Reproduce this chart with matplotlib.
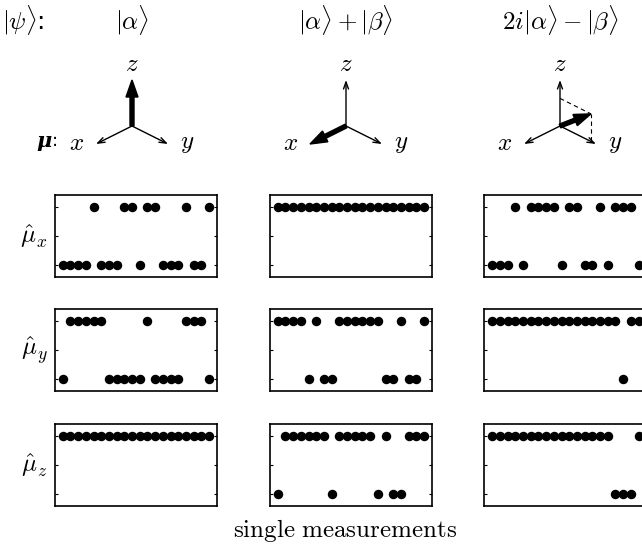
import numpy as np
import matplotlib.pyplot as plt

plt.rcParams['mathtext.fontset'] = 'cm'

W, H = 642, 547
FS = 18

# column headers / row labels
states = [r'$|\alpha\rangle$', r'$|\alpha\rangle + |\beta\rangle$', r'$2i|\alpha\rangle - |\beta\rangle$']
components = [r'$\hat{\mu}_x$', r'$\hat{\mu}_y$', r'$\hat{\mu}_z$']

# spin direction for each state, (x, y, z) components
spin_dirs = [(0, 0, 1), (1, 0, 0), (0, 0.86, 0.6)]

# single measurement outcomes (+1 up, -1 down), 20 shots per panel
shots = np.arange(1, 21)
mux_alpha = [-1, -1, -1, -1, 1, -1, -1, -1, 1, 1, -1, 1, 1, -1, -1, -1, 1, -1, -1, 1]
mux_sum   = [1, 1, 1, 1, 1, 1, 1, 1, 1, 1, 1, 1, 1, 1, 1, 1, 1, 1, 1, 1]
mux_mix   = [-1, -1, -1, 1, -1, 1, 1, 1, 1, -1, 1, 1, -1, -1, 1, -1, 1, 1, 1, -1]
muy_alpha = [-1, 1, 1, 1, 1, 1, -1, -1, -1, -1, -1, 1, -1, -1, -1, -1, 1, 1, 1, -1]
muy_sum   = [1, 1, 1, 1, -1, 1, -1, -1, 1, 1, 1, 1, 1, 1, -1, -1, 1, -1, -1, 1]
muy_mix   = [1, 1, 1, 1, 1, 1, 1, 1, 1, 1, 1, 1, 1, 1, 1, 1, 1, -1, 1, 1]
muz_alpha = [1, 1, 1, 1, 1, 1, 1, 1, 1, 1, 1, 1, 1, 1, 1, 1, 1, 1, 1, 1]
muz_sum   = [-1, 1, 1, 1, 1, 1, 1, -1, 1, 1, 1, 1, 1, -1, 1, -1, -1, 1, 1, 1]
muz_mix   = [1, 1, 1, 1, 1, 1, 1, 1, 1, 1, 1, 1, 1, 1, 1, 1, -1, -1, -1, 1]

outcomes = [[mux_alpha, mux_sum, mux_mix],
            [muy_alpha, muy_sum, muy_mix],
            [muz_alpha, muz_sum, muz_mix]]

fig = plt.figure(figsize=(W / 100, H / 100), dpi=100)

# overlay in pixel coords for text and the little axis sketches
ov = fig.add_axes([0, 0, 1, 1])
ov.set_xlim(0, W)
ov.set_ylim(H, 0)
ov.axis('off')

col_x = [132, 346, 560]
ov.text(2, 20, r'$|\psi\rangle$:', fontsize=FS, va='center', ha='left')
for cx, s in zip(col_x, states):
    ov.text(cx, 20, s, fontsize=FS, va='center', ha='center')

ov.text(36, 141, 'μ', fontsize=FS - 3, family='DejaVu Serif', weight='bold',
        style='italic', va='center', ha='left')
ov.text(52, 141, ':', fontsize=FS - 5, va='center', ha='left')

# projected screen vectors of the x, y, z axes
ax_vec = {'x': np.array([-36, 18]), 'y': np.array([36, 18]), 'z': np.array([0, -46])}
lab_off = {'x': np.array([-55, 17]), 'y': np.array([55, 17]), 'z': np.array([0, -62])}
oy = 126
for cx, d in zip(col_x, spin_dirs):
    o = np.array([cx, oy])
    for k in 'xyz':
        ov.annotate('', xy=o + ax_vec[k], xytext=o,
                    arrowprops=dict(arrowstyle='->,head_length=0.5,head_width=0.18',
                                    lw=1.0, color='k', shrinkA=0, shrinkB=0))
        ov.text(*(o + lab_off[k]), '$' + k + '$', fontsize=FS, ha='center', va='center')
    v = d[0] * ax_vec['x'] + d[1] * ax_vec['y'] + d[2] * ax_vec['z']
    if d[1] != 0 and d[2] != 0:
        pz = o + d[2] * ax_vec['z']
        py = o + d[1] * ax_vec['y']
        ov.plot([pz[0], o[0] + v[0]], [pz[1], o[1] + v[1]], 'k--', lw=0.8, dashes=(4, 3))
        ov.plot([py[0], o[0] + v[0]], [py[1], o[1] + v[1]], 'k--', lw=0.8, dashes=(4, 3))
    ov.arrow(o[0], o[1], v[0], v[1], width=4, head_width=12, head_length=17,
             length_includes_head=True, fc='k', ec='k', zorder=5)

# measurement panels
lefts = [55, 270, 484.5]
tops = [195, 309.3, 424]
pw, ph = 161.7, 81.7
for r, top in enumerate(tops):
    ov.text(34, top + ph / 2, components[r], fontsize=FS, ha='center', va='center')
    for c, left in enumerate(lefts):
        ax = fig.add_axes([left / W, 1 - (top + ph) / H, pw / W, ph / H])
        ax.plot(shots, outcomes[r][c], 'o', color='k', ms=5.8, ls='none')
        ax.set_xlim(0, 21)
        ax.set_ylim(-1.41, 1.41)
        ax.set_xticks([])
        ax.set_yticks([-1, 0, 1])
        ax.set_yticklabels([])
        ax.tick_params(axis='y', direction='in', length=2, width=0.8, left=True, right=True)
        for sp in ax.spines.values():
            sp.set_linewidth(1.2)

ov.text(345, 537, r'$\mathrm{single\ measurements}$', fontsize=FS, ha='center', va='baseline')

fig.savefig('out.png', dpi=100)
